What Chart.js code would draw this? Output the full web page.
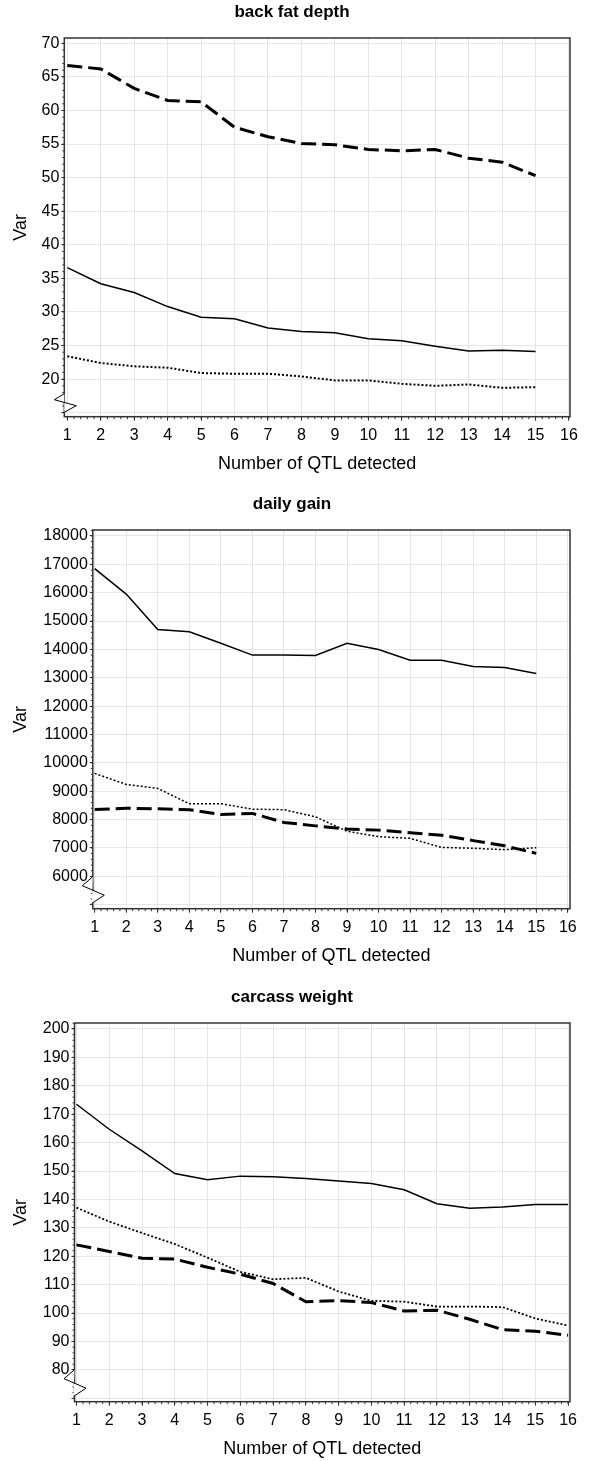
<!DOCTYPE html>
<html>
<head>
<title>Var by number of QTL detected</title>
<script src="https://cdn.jsdelivr.net/npm/chart.js"></script>
<style>
  body { margin: 0; background: #fff; overflow: hidden; }
  .box { position: absolute; left: 0; width: 600px; height: 480px; }
</style>
</head>
<body>
<div class="box" style="top:0px"><canvas id="bf"></canvas></div>
<div class="box" style="top:492px"><canvas id="dg"></canvas></div>
<div class="box" style="top:985px"><canvas id="cw"></canvas></div>

<script>
// x values (number of QTL detected)
const qtl15 = [1, 2, 3, 4, 5, 6, 7, 8, 9, 10, 11, 12, 13, 14, 15];
const qtl16 = [1, 2, 3, 4, 5, 6, 7, 8, 9, 10, 11, 12, 13, 14, 15, 16];
const xTicks = [1, 2, 3, 4, 5, 6, 7, 8, 9, 10, 11, 12, 13, 14, 15, 16];

// back fat depth
const bfDashed = [66.7, 66.2, 63.3, 61.5, 61.3, 57.5, 56.1, 55.1, 54.9, 54.2, 54.0, 54.2, 52.9, 52.3, 50.3];
const bfSolid  = [36.6, 34.2, 32.9, 30.8, 29.2, 29.0, 27.6, 27.1, 26.9, 26.0, 25.7, 24.9, 24.2, 24.3, 24.1];
const bfDotted = [23.4, 22.4, 21.9, 21.7, 20.9, 20.8, 20.8, 20.4, 19.8, 19.8, 19.3, 19.0, 19.2, 18.7, 18.8];
const bfYTicks = [15, 20, 25, 30, 35, 40, 45, 50, 55, 60, 65, 70];

// daily gain
const dgSolid  = [16850, 15950, 14700, 14620, 14220, 13800, 13800, 13790, 14220, 14000, 13620, 13620, 13400, 13360, 13150];
const dgDotted = [9630, 9240, 9100, 8560, 8560, 8370, 8350, 8100, 7590, 7400, 7340, 7020, 6990, 6940, 7010];
const dgDashed = [8360, 8400, 8380, 8350, 8180, 8220, 7900, 7780, 7670, 7630, 7540, 7450, 7260, 7080, 6810];
const dgYTicks = [5000, 6000, 7000, 8000, 9000, 10000, 11000, 12000, 13000, 14000, 15000, 16000, 17000, 18000];

// carcass weight
const cwSolid  = [173.5, 164.7, 157.1, 149.1, 146.9, 148.2, 148.0, 147.4, 146.5, 145.6, 143.4, 138.5, 136.9, 137.3, 138.2, 138.2];
const cwDotted = [137.1, 132.2, 128.2, 124.3, 119.5, 114.5, 111.9, 112.4, 107.6, 104.3, 104.0, 102.3, 102.3, 102.1, 98.1, 95.6];
const cwDashed = [124.0, 121.7, 119.3, 119.0, 116.1, 113.7, 110.4, 104.0, 104.4, 103.7, 100.7, 101.0, 97.8, 94.2, 93.6, 92.2];
const cwYTicks = [70, 80, 90, 100, 110, 120, 130, 140, 150, 160, 170, 180, 190, 200];

const FONT = "'Liberation Sans', Arial, Helvetica, sans-serif";

// frame, minor ticks and the axis break mark
const decor = {
  id: 'decor',
  afterDraw(chart, args, opts) {
    const { ctx, chartArea: a, scales: { x, y } } = chart;
    ctx.save();
    ctx.strokeStyle = '#333';
    ctx.lineWidth = 1;
    ctx.beginPath();
    for (let i = 0; i <= 75; i++) {
      const px = x.getPixelForValue(1 + i * 0.2);
      ctx.moveTo(px, a.bottom);
      ctx.lineTo(px, a.bottom + 2.5);
    }
    const s = opts.minorY;
    for (let v = Math.ceil(y.min / s) * s; v <= y.max; v += s) {
      const py = y.getPixelForValue(v);
      ctx.moveTo(a.left, py);
      ctx.lineTo(a.left - 2, py);
    }
    ctx.stroke();

    ctx.lineWidth = 1.5;
    ctx.strokeStyle = '#333';
    ctx.strokeRect(a.left, a.top, a.width, a.height);

    const z = opts.zig;
    ctx.beginPath();
    z.forEach((p, i) => {
      const px = a.left + p[0], py = a.bottom + p[1];
      if (i === 0) ctx.moveTo(px, py); else ctx.lineTo(px, py);
    });
    ctx.fillStyle = '#fff';
    ctx.fill();
    ctx.lineWidth = 1;
    ctx.strokeStyle = '#000';
    ctx.stroke();
    ctx.restore();
  }
};

function pts(xs, ys) {
  return ys.map((v, i) => ({ x: xs[i], y: v }));
}

function solid(d) {
  return { data: d, borderColor: '#000', borderWidth: 1.5, pointRadius: 0, tension: 0 };
}
function dotted(d, w) {
  return { data: d, borderColor: '#000', borderWidth: w, borderDash: [2, 2], pointRadius: 0, tension: 0 };
}
function dashed(d) {
  return { data: d, borderColor: '#000', borderWidth: 3, borderDash: [15, 6], pointRadius: 0, tension: 0 };
}

const smallZig = [[0, -23], [-10, -17], [12, -11], [0, -4.5]];
const bigZig = [[0, -32], [-10.5, -23], [11.5, -13.5], [-1, -5.3]];

function makeChart(id, title, datasets, yMin, yMax, yTicks, minorY, leftW, xMin, xMax, zig) {
  new Chart(document.getElementById(id), {
    type: 'line',
    data: { datasets: datasets },
    plugins: [decor],
    options: {
      responsive: true,
      maintainAspectRatio: false,
      animation: false,
      layout: { padding: { left: 14, right: 30, top: 0, bottom: 0 } },
      plugins: {
        legend: { display: false },
        tooltip: { enabled: false },
        title: {
          display: true,
          text: title,
          color: '#000',
          font: { family: FONT, size: 17, weight: 'bold' },
          padding: { top: 2, bottom: 15.6 }
        },
        decor: { minorY: minorY, zig: zig }
      },
      scales: {
        x: {
          type: 'linear',
          min: xMin,
          max: xMax,
          afterBuildTicks: s => { s.ticks = xTicks.map(v => ({ value: v })); },
          afterFit: s => { s.height = 63.3; },
          grid: { color: '#e6e6e6', lineWidth: 1, tickLength: 4, tickColor: '#333' },
          border: { display: false },
          ticks: { color: '#000', padding: 5.5, font: { family: FONT, size: 16 }, maxRotation: 0, autoSkip: false },
          title: {
            display: true,
            text: 'Number of QTL detected',
            color: '#000',
            font: { family: FONT, size: 18 },
            padding: { top: 0, bottom: 5 }
          }
        },
        y: {
          min: yMin,
          max: yMax,
          afterBuildTicks: s => { s.ticks = yTicks.map(v => ({ value: v })); },
          afterFit: s => { s.width = leftW - 14; },
          grid: { color: '#e6e6e6', lineWidth: 1, tickLength: 3, tickColor: '#333' },
          border: { display: false },
          ticks: {
            color: '#000',
            padding: 2,
            font: { family: FONT, size: 16 },
            callback: (v, i) => (i === 0 ? '' : v)
          },
          title: {
            display: true,
            text: 'Var',
            color: '#000',
            font: { family: FONT, size: 18, lineHeight: 1 },
            padding: { top: -2, bottom: 0 }
          }
        }
      }
    }
  });
}

makeChart('bf', 'back fat depth', [
  dashed(pts(qtl15, bfDashed)),
  solid(pts(qtl15, bfSolid)),
  dotted(pts(qtl15, bfDotted), 2)
], 14.4, 70.8, bfYTicks, 1, 64.3, 0.91, 16.03, smallZig);

makeChart('dg', 'daily gain', [
  solid(pts(qtl15, dgSolid)),
  dotted(pts(qtl15, dgDotted), 1.5),
  dashed(pts(qtl15, dgDashed))
], 4860, 18210, dgYTicks, 200, 92.8, 0.94, 16.07, bigZig);

makeChart('cw', 'carcass weight', [
  solid(pts(qtl16, cwSolid)),
  dotted(pts(qtl16, cwDotted), 1.8),
  dashed(pts(qtl16, cwDashed))
], 68.8, 202.1, cwYTicks, 2, 74.5, 0.94, 16.06, bigZig);
</script>
</body>
</html>
